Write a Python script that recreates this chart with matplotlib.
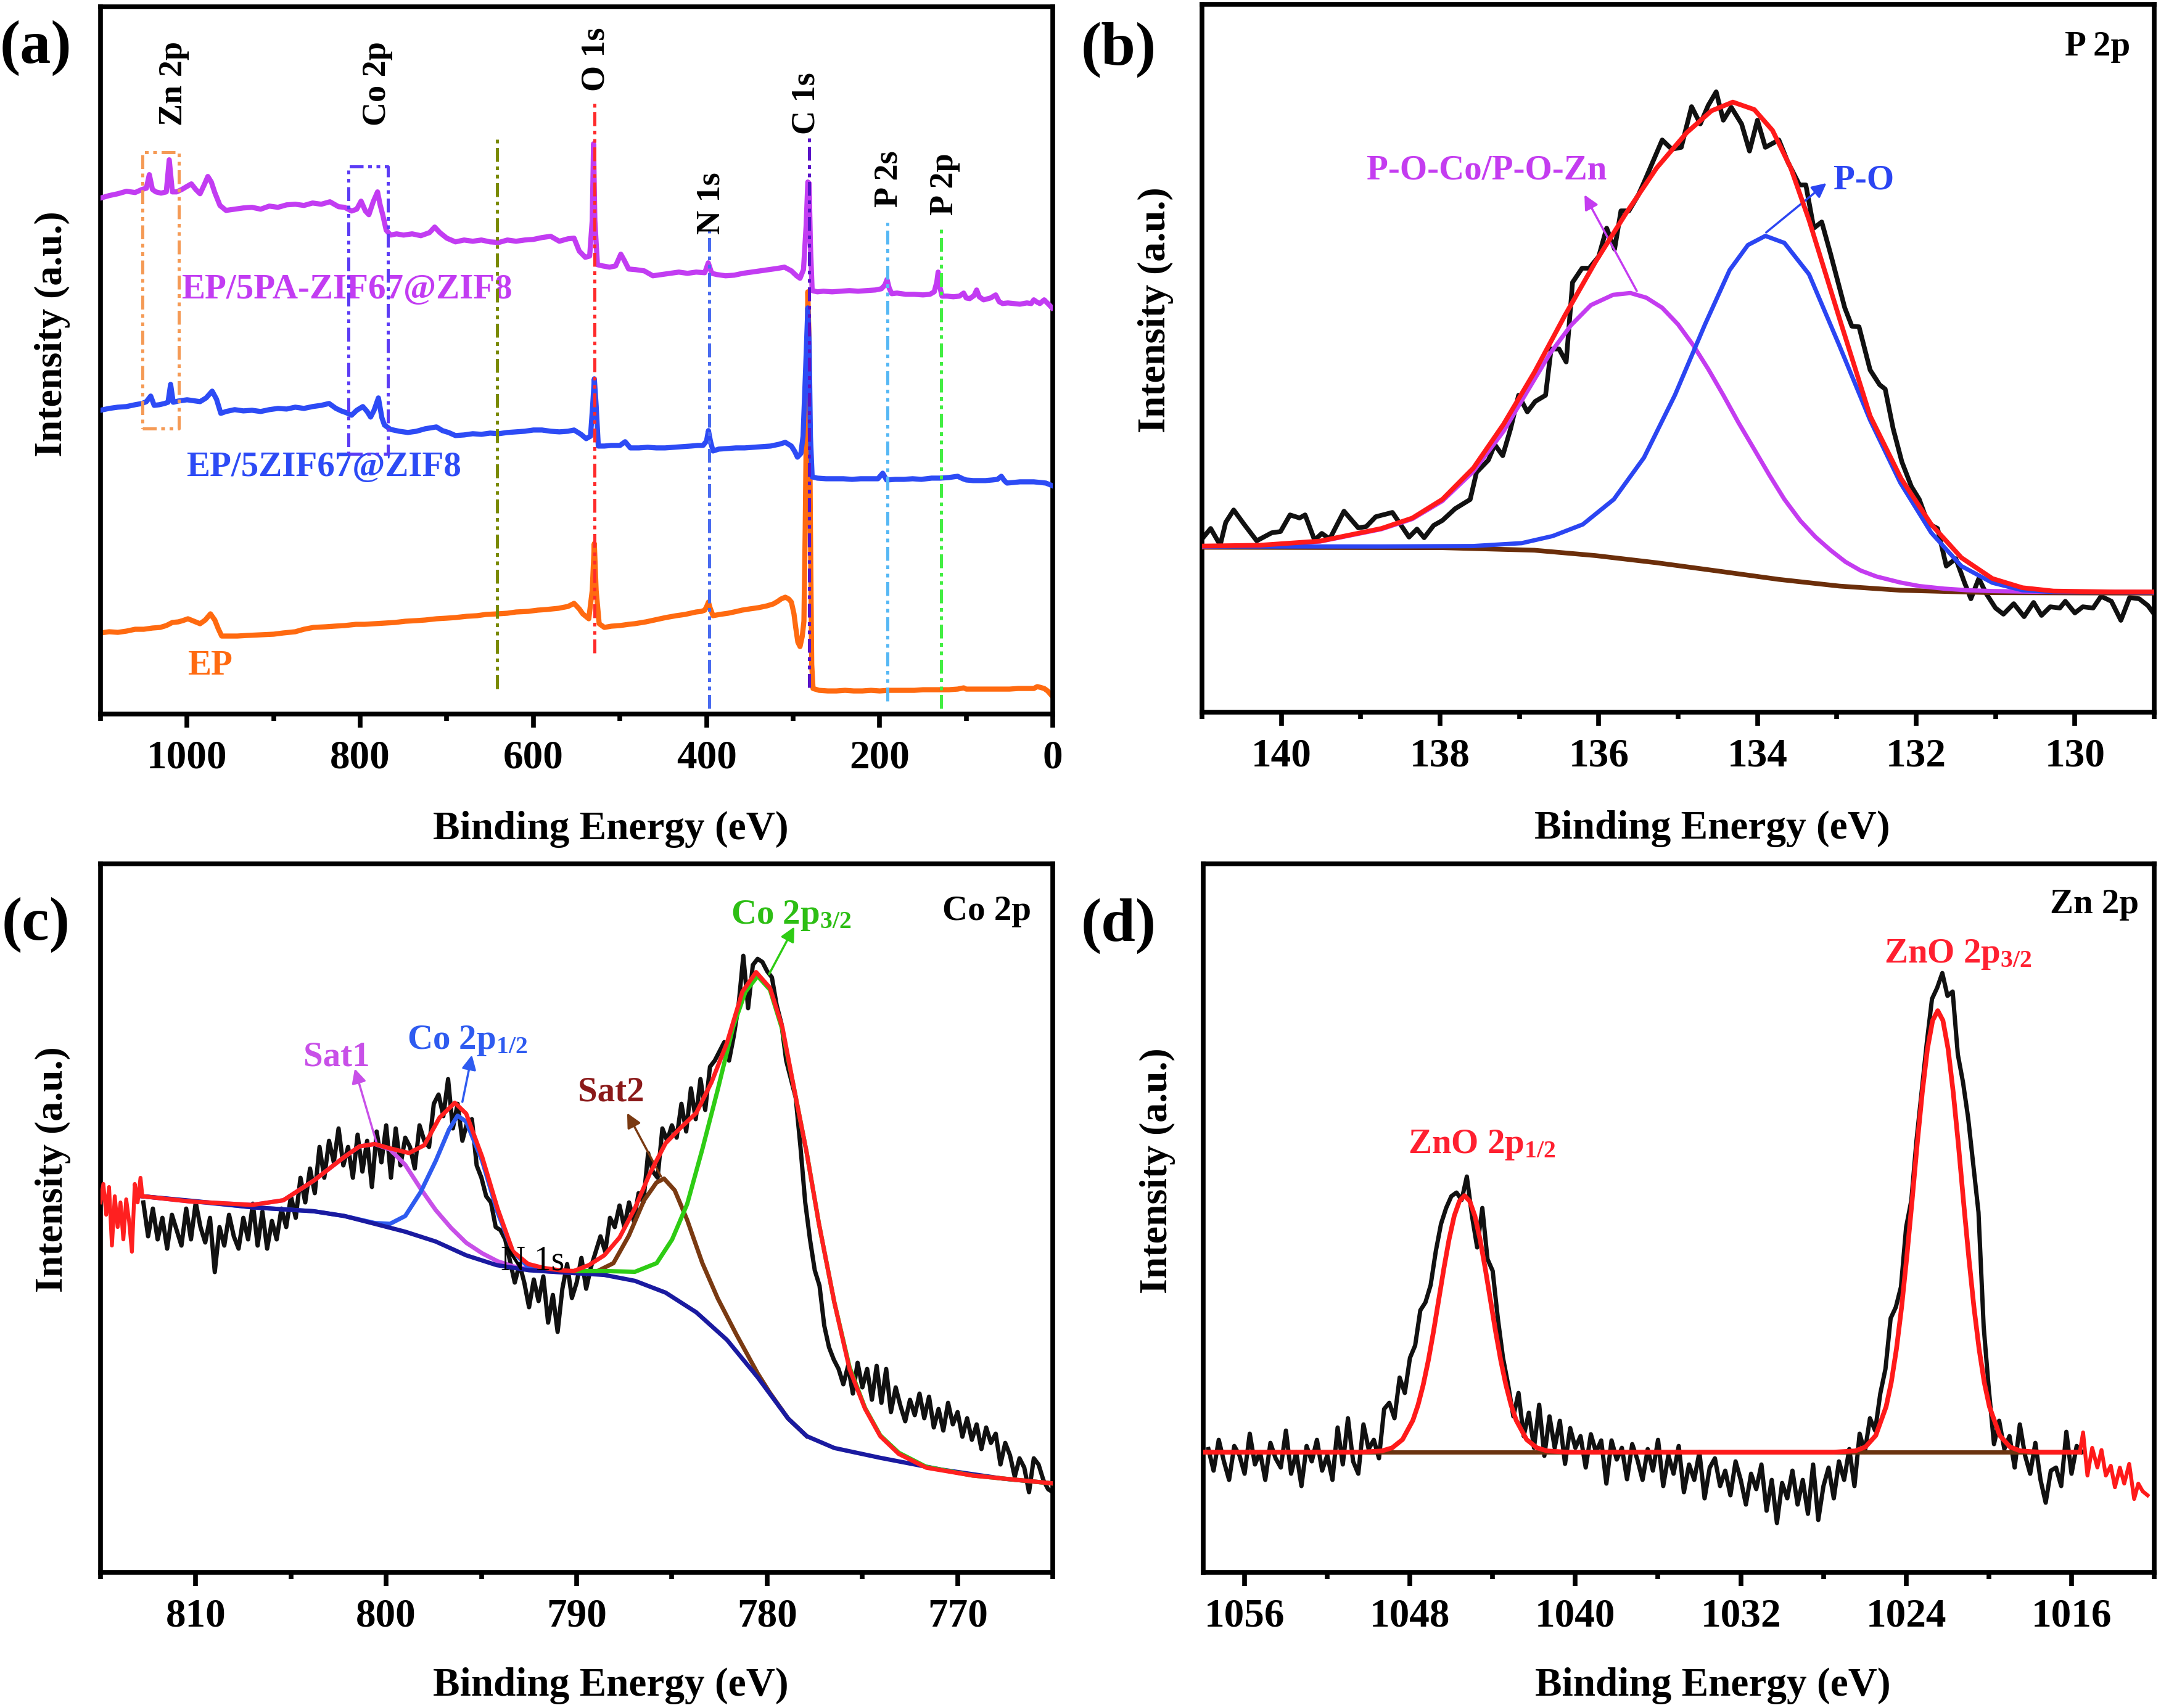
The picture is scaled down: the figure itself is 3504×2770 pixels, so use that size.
import matplotlib.pyplot as plt
import numpy as np
from matplotlib.ticker import MultipleLocator

plt.rcParams['font.family'] = ['Liberation Serif', 'DejaVu Serif']
plt.rcParams['font.weight'] = 'bold'
plt.rcParams['mathtext.fontset'] = 'custom'
plt.rcParams['mathtext.rm'] = 'Liberation Serif:bold'
plt.rcParams['mathtext.it'] = 'Liberation Serif:bold'
plt.rcParams['mathtext.bf'] = 'Liberation Serif:bold'

# ---------------- (a) survey spectra ----------------
pa_x = [1100, 1090, 1080, 1070, 1060, 1052, 1047, 1043.6, 1040, 1036,
        1030, 1024, 1020.6, 1017, 1012, 1006, 1000, 995, 990, 985,
        980, 976, 972, 968, 962, 955, 945, 935, 925, 915,
        905, 895, 885, 875, 865, 855, 845, 835, 825, 818,
        810, 804, 799, 794, 790, 785, 780, 777, 774, 770,
        765, 758, 750, 740, 730, 720, 714, 708, 700, 690,
        680, 670, 660, 650, 640, 630, 620, 610, 600, 590,
        580, 570, 560, 553, 547, 540, 535, 532, 530.5, 529,
        526, 520, 512, 505, 499, 495, 490, 482, 472, 462,
        452, 442, 432, 422, 412, 402, 398, 394, 388, 378,
        368, 358, 348, 338, 328, 318, 310, 302, 296, 292,
        288, 285, 283, 281.5, 280, 278, 272, 265, 255, 245,
        235, 225, 215, 205, 198, 194, 191.5, 189, 186, 180,
        170, 160, 150, 142, 137, 134, 132.5, 131, 128, 122,
        115, 108, 103, 100, 96, 91, 88, 85, 80, 72,
        66, 62, 58, 52, 45, 38, 30, 25, 22, 19,
        15, 10, 5, 1]
pa_y = [836, 840, 843, 847, 845, 850, 852, 874, 850, 846,
        844, 846, 898, 846, 846, 850, 855, 859, 850, 843,
        858, 871, 862, 845, 824, 816, 818, 820, 821, 818,
        823, 821, 825, 826, 824, 828, 826, 830, 822, 821,
        815, 818, 831, 815, 809, 830, 846, 825, 809, 784,
        776, 778, 776, 778, 775, 780, 789, 780, 771, 765,
        768, 766, 768, 765, 764, 768, 766, 768, 769, 772,
        774, 766, 770, 771, 750, 740, 742, 800, 924, 800,
        728, 726, 724, 726, 745, 735, 721, 720, 718, 710,
        712, 714, 716, 714, 716, 715, 731, 714, 712, 710,
        711, 714, 716, 718, 720, 722, 724, 718, 710, 706,
        720, 790, 862, 860, 760, 686, 684, 685, 684, 685,
        686, 685, 686, 687, 689, 695, 704, 690, 681, 682,
        680, 680, 679, 680, 684, 700, 716, 695, 677, 677,
        676, 677, 682, 674, 673, 678, 687, 676, 671, 674,
        679, 668, 665, 666, 665, 664, 666, 665, 671, 668,
        665, 671, 664, 658]

zif_x = [1100, 1090, 1080, 1070, 1060, 1052, 1047, 1042, 1038, 1032,
         1026, 1022, 1019, 1016, 1010, 1000, 990, 985, 978, 971,
         966, 961, 955, 945, 935, 925, 915, 905, 895, 885,
         875, 865, 855, 845, 836, 828, 822, 816, 810, 804,
         797, 792, 788, 784, 779, 775, 772, 765, 755, 745,
         735, 725, 712, 705, 698, 690, 680, 670, 660, 650,
         640, 630, 620, 610, 600, 590, 580, 570, 560, 553,
         545, 539, 534, 531.5, 529.6, 527.5, 525, 518, 510, 500,
         494, 488, 478, 468, 458, 448, 438, 428, 418, 410,
         404, 400, 397.8, 395.5, 392.5, 386, 376, 366, 356, 346,
         336, 326, 316, 309, 302, 298, 295, 291, 288.5, 285.5,
         283, 281.5, 280, 278, 272, 262, 252, 242, 232, 222,
         212, 202, 196.5, 192, 182, 172, 162, 152, 146, 140,
         130, 120, 110, 104, 100, 92, 84, 78, 70, 64,
         59.5, 56, 53, 45, 38, 30, 22, 15, 8, 1]
zif_y = [492, 495, 497, 498, 501, 503, 506, 515, 500, 501,
         503, 505, 534, 505, 507, 509, 507, 506, 512, 523,
         510, 487, 490, 493, 491, 492, 490, 493, 495, 494,
         497, 495, 498, 500, 503, 495, 491, 488, 484, 492,
         498, 490, 481, 492, 512, 480, 468, 461, 458, 456,
         458, 462, 465, 459, 456, 451, 452, 454, 453, 455,
         454, 456, 457, 458, 460, 460, 458, 457, 458, 460,
         453, 446, 450, 500, 543, 500, 434, 434, 435, 435,
         441, 431, 431, 432, 431, 431, 432, 433, 434, 435,
         435, 442, 459, 442, 426, 429, 430, 431, 431, 432,
         433, 434, 437, 440, 434, 425, 416, 422, 450, 560,
         658, 600, 450, 384, 382, 381, 381, 381, 380, 381,
         381, 381, 390, 379, 380, 380, 381, 380, 381, 382,
         382, 383, 385, 381, 379, 378, 378, 378, 379, 380,
         385, 378, 374, 375, 376, 376, 376, 375, 374, 370]

ep_x = [1100, 1090, 1080, 1070, 1060, 1050, 1040, 1031, 1024, 1017,
        1010, 1005, 999, 992, 985, 979, 973, 968, 964, 960,
        952, 942, 930, 915, 900, 889, 875, 865, 854, 840,
        830, 818, 805, 795, 783, 770, 760, 748, 735, 725,
        712, 700, 690, 677, 665, 655, 641, 630, 620, 606,
        595, 585, 571, 560, 553, 547, 543, 536, 532, 529.6,
        527.5, 524, 518, 510, 500, 490, 483, 470, 460, 447,
        435, 425, 412, 406, 402, 399.5, 397.8, 396, 392.5, 385,
        375, 365, 359, 350, 340, 330, 323, 318, 314, 309,
        305, 302, 299, 297, 294.5, 292, 289.5, 287.5, 286, 284.5,
        283, 281.5, 280, 278.5, 277, 270, 260, 250, 240, 230,
        220, 210, 200, 190, 180, 170, 160, 150, 140, 130,
        120, 110, 103, 100, 90, 80, 70, 60, 50, 40,
        30, 22, 18, 15, 10, 6, 1]
ep_y = [131, 133, 132, 134, 137, 137, 139, 140, 143, 148,
        149, 151, 154, 150, 146, 152, 162, 152, 138, 126,
        126, 126, 127, 128, 129, 131, 133, 137, 140, 141,
        142, 143, 145, 145, 146, 147, 148, 150, 151, 152,
        154, 155, 156, 158, 159, 161, 162, 163, 165, 166,
        168, 169, 171, 174, 179, 170, 162, 154, 200, 276,
        200, 146, 140, 142, 143, 145, 146, 149, 152, 156,
        159, 161, 165, 166, 168, 175, 181, 172, 159, 161,
        163, 166, 168, 170, 172, 175, 178, 182, 186, 189,
        186, 181, 162, 140, 116, 109, 125, 150, 300, 500,
        684, 600, 300, 80, 41, 38, 37, 37, 38, 37,
        37, 38, 37, 38, 38, 38, 38, 39, 39, 39,
        39, 40, 42, 40, 40, 40, 40, 40, 40, 41,
        41, 41, 44, 43, 41, 37, 29]

peak_names = ['Zn 2p', 'Co 2p', 'O 1s', 'N 1s', 'C 1s', 'P 2s', 'P 2p']
peak_text_x = [1015, 780, 527.5, 394.4, 284.5, 188.9, 125.1]
peak_text_y = [953, 953, 1009, 777, 939, 821, 808]
mark_x = [642.2, 529.6, 396.7, 281.6, 190.9, 128.9]
mark_top = [931, 991, 790, 934, 796, 787]
mark_bot = [41, 99, 9, 43, 21, 9]
mark_colors = ['#7A8A00', '#FF2A2A', '#4A6CF0', '#5A14C8', '#56B8F5', '#44EE44']

# ---------------- (b) P 2p ----------------
p2p_x = [140.98, 140.89, 140.77, 140.70, 140.60, 140.47, 140.31, 140.12, 140.01, 139.89,
         139.77, 139.70, 139.58, 139.49, 139.39, 139.21, 139.03, 138.93, 138.81, 138.60,
         138.39, 138.29, 138.20, 138.08, 137.97, 137.81, 137.62, 137.54, 137.39, 137.31,
         137.21, 137.11, 137.01, 136.90, 136.80, 136.67, 136.60, 136.50, 136.41, 136.33,
         136.21, 136.12, 136.00, 135.90, 135.80, 135.72, 135.62, 135.50, 135.43, 135.29,
         135.20, 135.08, 134.96, 134.83, 134.72, 134.62, 134.52, 134.43, 134.33, 134.20,
         134.10, 134.00, 133.90, 133.73, 133.62, 133.47, 133.39, 133.29, 133.19, 133.08,
         132.90, 132.81, 132.72, 132.58, 132.46, 132.39, 132.29, 132.18, 132.06, 131.96,
         131.85, 131.73, 131.62, 131.50, 131.39, 131.31, 131.21, 131.12, 131.00, 130.90,
         130.77, 130.64, 130.52, 130.42, 130.31, 130.19, 130.12, 130.00, 129.90, 129.77,
         129.67, 129.54, 129.42, 129.31, 129.19, 129.08, 129.00]
p2p_y = [284, 298, 271, 308, 328, 305, 278, 291, 293, 320,
         315, 320, 279, 290, 281, 326, 299, 301, 317, 324,
         284, 297, 283, 303, 311, 330, 345, 389, 409, 434,
         416, 460, 514, 487, 504, 514, 589, 589, 568, 697,
         720, 720, 739, 785, 751, 813, 813, 839, 859, 901,
         928, 913, 916, 982, 954, 984, 1006, 960, 981, 954,
         910, 960, 916, 928, 893, 855, 855, 785, 795, 744,
         656, 626, 625, 555, 531, 524, 460, 406, 366, 345,
         306, 298, 237, 249, 210, 184, 217, 193, 169, 159,
         176, 155, 178, 157, 171, 169, 180, 161, 171, 169,
         188, 180, 149, 186, 184, 173, 159]

p2p_fit_x = [140.98, 140.27, 139.51, 138.74, 138.35, 137.97, 137.58, 137.20, 136.81, 136.43,
             136.04, 135.66, 135.27, 134.89, 134.58, 134.31, 134.04, 133.81, 133.58, 133.35,
             132.96, 132.58, 132.19, 131.81, 131.43, 131.04, 130.66, 130.27, 129.50, 129.00]
p2p_fit_y = [269.5, 270.8, 277.6, 297.9, 314.8, 345.2, 395.9, 466.9, 551.4, 642.6,
             730.5, 808.3, 882.6, 940, 975.2, 989.4, 977.3, 943.5, 882.6, 798.1,
             635.9, 480.4, 379, 304.6, 250.6, 216.8, 201.9, 196.5, 195.1, 195.1]
poco_x = [140.98, 140.27, 139.51, 138.74, 138.35, 137.97, 137.58, 137.20, 136.90, 136.62,
          136.35, 136.10, 135.82, 135.60, 135.40, 135.20, 135.00, 134.81, 134.62, 134.43,
          134.24, 134.04, 133.85, 133.66, 133.46, 133.27, 133.08, 132.89, 132.70, 132.50,
          132.20, 131.96, 131.65, 131.35, 131.04, 130.50, 129.00]
poco_y = [268.8, 270.2, 276.9, 296.8, 313.3, 342.5, 390.4, 455.5, 520.4, 580.5,
          627.4, 660.1, 676.8, 679.8, 672.2, 655.8, 628.8, 595.3, 556.5, 514.2,
          469.9, 426.3, 384.6, 345.2, 310.6, 284.4, 262.9, 243.8, 229.8, 220.1,
          210.4, 204.6, 200.4, 197.8, 196.5, 195.4, 195]
po_x = [140.98, 138.74, 137.58, 136.97, 136.58, 136.20, 135.81, 135.43, 135.04, 134.66,
        134.35, 134.12, 133.90, 133.66, 133.35, 132.97, 132.58, 132.20, 131.81, 131.43,
        131.04, 130.66, 130.27, 129.00]
po_y = [268.8, 268.8, 269.5, 274.2, 285.7, 304.6, 345.2, 412.8, 514.2, 629.1,
        717, 757.6, 772.4, 761, 710.2, 595.3, 473.6, 372.2, 291.1, 237,
        210, 197.8, 195.1, 194]
p2p_bg_x = [140.98, 137.97, 136.81, 136.04, 135.27, 134.50, 133.73, 132.97, 132.20, 131.04, 129.00]
p2p_bg_y = [267.5, 266.8, 262.7, 254, 242.4, 229, 215.4, 204.6, 197.8, 193.8, 193.1]

# ---------------- (c) Co 2p ----------------
co_x = np.arange(812.75, 764.9, -0.25)
co_y = [600, 545, 590, 540, 575, 525, 580, 555, 530, 590,
        540, 600, 560, 535, 575, 487, 560, 530, 580, 545,
        525, 575, 540, 598, 530, 585, 525, 570, 540, 590,
        560, 610, 575, 640, 600, 655, 615, 690, 640, 700,
        665, 720, 660, 690, 640, 710, 650, 700, 625, 715,
        665, 725, 640, 720, 660, 705, 690, 655, 725, 700,
        690, 760, 775, 740, 800, 720, 760, 700, 730, 735,
        660, 640, 610, 600, 560, 555, 540, 505, 470, 500,
        470, 430, 475, 440, 480, 405, 450, 390, 460, 500,
        445, 470, 510, 460, 495, 520, 545, 520, 575, 560,
        595, 560, 600, 570, 615, 600, 680, 650, 640, 720,
        700, 725, 705, 760, 715, 785, 735, 800, 750, 820,
        830, 845, 860, 830, 870, 920, 1000, 915, 985, 995,
        990, 975, 965, 920, 890, 830, 800, 770, 690, 600,
        540, 490, 465, 400, 365, 345, 330, 305, 335, 290,
        340, 300, 330, 280, 335, 275, 330, 260, 300, 270,
        245, 280, 255, 290, 250, 285, 235, 265, 230, 275,
        240, 260, 220, 250, 215, 240, 200, 235, 210, 225,
        175, 210, 190, 155, 185, 170, 130, 185, 175, 150,
        135, 130]
co_edge_x = [815.0, 814.85, 814.7, 814.55, 814.4, 814.25, 814.1, 813.95, 813.8, 813.65,
             813.5, 813.35, 813.2, 813.05, 812.9, 812.8]
co_edge_y = [600, 630, 580, 625, 530, 610, 560, 600, 540, 605,
             570, 520, 630, 600, 640, 610]
co_fit_x = [812.8, 810.3, 807.04, 805.4, 803.8, 802.2, 801.4, 800.6, 799.8, 798.8,
            798.0, 797.2, 796.4, 795.8, 794.96, 794.16, 793.35, 792.55, 791.74, 790.9,
            790.16, 789.36, 788.55, 787.75, 786.94, 786.14, 785.33, 784.53, 783.72, 782.92,
            782.11, 781.3, 780.58, 779.85, 779.2, 778.57, 777.92, 777.28, 776.47, 775.67,
            774.86, 774.06, 773.09, 771.64, 769.22, 765.0]
co_fit_y = [610, 601.6, 595.9, 603.5, 635.4, 673.7, 690.9, 694.7, 687.7, 680.1,
            692.8, 737.5, 761.7, 743.9, 673.7, 590.8, 520.6, 500.2, 493.8, 490,
            488.7, 498.3, 514.2, 543, 590.8, 648.2, 696, 721.5, 745.1, 794.9,
            858.7, 941.6, 973.5, 948, 884.2, 782.1, 680.1, 565.3, 437.7, 329.3,
            265.5, 220.9, 192.2, 169.8, 157.1, 144.3]
co_bg_x = [812.8, 810.0, 807.0, 805.0, 803.8, 802.2, 800.6, 799.0, 797.4, 795.8,
           794.2, 792.5, 790.2, 788.55, 786.94, 785.33, 783.72, 782.11, 780.5, 778.9,
           777.92, 776.47, 774.06, 770.84, 767.61, 765.0]
co_bg_y = [610, 602, 592, 588, 585.7, 578, 565.3, 552.5, 536.6, 514.2,
           498.3, 490, 485.5, 482.4, 472.8, 453.7, 421.8, 377.1, 316.5, 249.6,
           220.9, 201.7, 185.8, 166.6, 152, 144.3]
sat1_x = [812.8, 810.3, 807.04, 805.4, 803.8, 802.2, 801.4, 800.6, 799.8, 799.0,
          798.2, 797.4, 796.6, 795.8, 794.96, 794.16, 793.35, 792.55, 791.5, 790.2]
sat1_y = [610, 601.6, 595.9, 603.5, 635.4, 673.7, 690.9, 694.7, 686, 660.9,
          622.7, 587.6, 558.9, 534.6, 517.5, 504.7, 496.4, 491.9, 488, 485.5]
co12_x = [812.8, 807.0, 803.8, 802.2, 800.6, 799.8, 799.0, 798.2, 797.4, 796.7,
          796.25, 795.8, 794.96, 794.16, 793.35, 792.55, 790.9]
co12_y = [610, 592, 585.7, 578, 566.6, 565.3, 578, 616.3, 667.3, 718.3,
          740.7, 731, 667.3, 584.4, 520.6, 495.1, 488.7]
co32_x = [790.16, 788.55, 786.94, 785.8, 784.99, 784.2, 783.4, 782.6, 781.79, 781.14,
          780.5, 779.85, 779.21, 778.57, 777.92, 777.28, 776.47, 775.67, 774.86, 774.06,
          773.09, 771.64, 769.22, 765.04]
co32_y = [488.7, 488.7, 487.5, 501.5, 539.8, 597.2, 686.5, 782.1, 884.2, 941.6,
          967.1, 944.8, 881, 782.1, 680.1, 565.3, 437.7, 332.5, 266.8, 222.2,
          194.1, 171.1, 157.1, 144.3]
sat2_x = [790.16, 788.9, 788.07, 787.26, 786.46, 785.81, 785.41, 784.85, 784.2, 783.4,
          782.59, 781.63, 780.5, 779.85, 778.9, 777.92]
sat2_y = [487.5, 488.7, 501.5, 546.1, 603.5, 632.2, 638.6, 619.5, 571.7, 501.5,
          444.1, 386.7, 322.9, 291, 249.6, 220.9]

# ---------------- (d) Zn 2p ----------------
zn_x = np.arange(1057.75, 1015.4, -0.25)
zn_y = [200, 165, 215, 180, 150, 205, 190, 160, 225, 175,
        195, 150, 210, 185, 170, 230, 160, 195, 140, 205,
        180, 215, 165, 190, 150, 235, 175, 250, 180, 160,
        240, 200, 215, 185, 265, 275, 250, 316, 291, 348,
        368, 425, 438, 466, 521, 565, 591, 610, 616, 604,
        642, 578, 527, 591, 508, 489, 412, 348, 304, 253,
        291, 221, 259, 202, 272, 189, 253, 202, 246, 176,
        234, 202, 221, 170, 224, 195, 214, 144, 214, 183,
        202, 151, 208, 183, 150, 200, 165, 215, 140, 190,
        160, 205, 130, 175, 150, 195, 120, 170, 185, 140,
        165, 125, 180, 150, 110, 160, 135, 175, 100, 150,
        80, 145, 120, 165, 110, 150, 95, 175, 85, 140,
        170, 120, 180, 150, 200, 140, 225, 195, 250, 230,
        290, 330, 412, 430, 463, 560, 603, 700, 780, 859,
        930, 948, 972, 935, 942, 840, 795, 737, 660, 584,
        399, 297, 208, 246, 200, 221, 170, 240, 190, 160,
        210, 150, 113, 165, 170, 140, 228, 160, 205, 195]
zn_tail_x = [1015.6, 1015.44, 1015.23, 1015.0, 1014.75, 1014.55, 1014.34, 1014.1, 1013.9, 1013.66,
             1013.45, 1013.21, 1012.97, 1012.77, 1012.56, 1012.32]
zn_tail_y = [195, 227, 157, 202, 170, 198.5, 157, 173, 138, 170,
             144, 176, 119, 144, 131.6, 125]
zn_fit_x = [1058.0, 1050.4, 1049.36, 1048.86, 1048.36, 1047.86, 1047.61, 1047.36, 1047.11, 1046.86,
            1046.61, 1046.36, 1046.11, 1045.86, 1045.61, 1045.36, 1045.11, 1044.86, 1044.61, 1044.36,
            1044.11, 1043.86, 1043.61, 1043.36, 1043.11, 1042.86, 1042.36, 1041.86, 1041.36, 1040.4,
            1027.5, 1026.47, 1025.97, 1025.47, 1024.97, 1024.72, 1024.47, 1024.22, 1023.97, 1023.72,
            1023.47, 1023.22, 1022.97, 1022.72, 1022.47, 1022.22, 1021.97, 1021.72, 1021.47, 1021.22,
            1020.97, 1020.72, 1020.47, 1020.22, 1019.97, 1019.47, 1018.97, 1018.47, 1017.5, 1015.6]
zn_fit_y = [195, 195, 197, 202, 215.5, 246.5, 271.5, 304, 344, 391,
            442, 493, 540, 578, 602, 611, 602, 578, 540, 493,
            442, 391, 344, 304, 271.5, 246.5, 215.5, 202, 197, 195,
            195, 197, 203.3, 222, 268.6, 308, 362, 430, 511, 600,
            693, 778, 849, 895, 911, 895, 849, 778, 693, 600,
            511, 430, 362, 308, 268.6, 222, 203.3, 197, 195, 195]
zn_bg_x = [1058.0, 1015.6]
zn_bg_y = [195, 195]

# ---------------- figure ----------------
fig = plt.figure(figsize=(35.04, 27.70), dpi=100)
ax_a = fig.add_axes([0.0465, 0.5821, 0.4407, 0.4139])
ax_b = fig.add_axes([0.5562, 0.5830, 0.44066, 0.4145])
ax_c = fig.add_axes([0.0465, 0.0794, 0.4407, 0.4148])
ax_d = fig.add_axes([0.5568, 0.0794, 0.44006, 0.4148])


def style(ax, xlim, major, minor, ylim, ylab_x, ylab_y, xlab_y):
    ax.set_xlim(*xlim)
    ax.set_ylim(*ylim)
    ax.xaxis.set_major_locator(MultipleLocator(major))
    ax.xaxis.set_minor_locator(MultipleLocator(minor))
    ax.set_yticks([])
    ax.tick_params(axis='x', which='major', direction='out', length=16, width=5.5,
                   labelsize=47, pad=14)
    ax.tick_params(axis='x', which='minor', direction='out', length=8, width=5.5)
    for s in ax.spines.values():
        s.set_linewidth(5.5)
    ax.set_xlabel('Binding Energy (eV)', fontsize=47, fontweight='bold')
    ax.set_ylabel('Intensity (a.u.)', fontsize=46, fontweight='bold')
    ax.xaxis.set_label_coords(0.536, xlab_y)
    ax.yaxis.set_label_coords(ylab_x, ylab_y)


dashdotdot = (0, (4.5, 1.5, 1.2, 1.5, 1.2, 1.5))
arrow = dict(arrowstyle='-|>', lw=2.5, mutation_scale=35, shrinkA=0, shrinkB=0)

# (a)
ax = ax_a
ax.plot(ep_x, ep_y, color='#FF6A10', lw=6, zorder=2)
ax.plot(zif_x, zif_y, color='#2D4BF5', lw=6, zorder=3)
ax.plot(pa_x, pa_y, color='#C23CF2', lw=6, zorder=4)
for x, t, b, c in zip(mark_x, mark_top, mark_bot, mark_colors):
    ax.plot([x, x], [b, t], color=c, lw=3.6, ls=dashdotdot, zorder=5)
ax.plot([1051.4, 1009.3, 1009.3, 1051.4, 1051.4], [462, 462, 910, 910, 462],
        color='#F59A55', lw=3.6, ls=dashdotdot, zorder=5)
ax.plot([813.3, 768.3, 768.3, 813.3, 813.3], [421, 421, 887, 887, 421],
        color='#5B3BF5', lw=3.6, ls=dashdotdot, zorder=5)
for name, x, y in zip(peak_names, peak_text_x, peak_text_y):
    ax.text(x, y, name, rotation=90, ha='center', va='bottom', fontsize=39,
            fontweight='bold', color='black', zorder=6)
ax.text(1006.4, 687, 'EP/5PA-ZIF67@ZIF8', color='#C23CF2', fontsize=41,
        fontweight='bold', ha='left', va='center', zorder=1)
ax.text(1001, 399, 'EP/5ZIF67@ZIF8', color='#2D4BF5', fontsize=41,
        fontweight='bold', ha='left', va='center', zorder=1)
ax.text(999.4, 78, 'EP', color='#FF6A10', fontsize=41,
        fontweight='bold', ha='left', va='center', zorder=1)
style(ax, (1100, 0), 200, 100, (0, 1146), -0.032, 0.537, -0.137)

# (b)
ax = ax_b
ax.plot(p2p_x, p2p_y, color='#111111', lw=5.5, zorder=2)
ax.plot(p2p_bg_x, p2p_bg_y, color='#6B2E0A', lw=5.5, zorder=3)
ax.plot(poco_x, poco_y, color='#C43CF0', lw=5, zorder=4)
ax.plot(po_x, po_y, color='#2B45F2', lw=5, zorder=5)
ax.plot(p2p_fit_x, p2p_fit_y, color='#FF1A1A', lw=5.5, zorder=6)
ax.text(137.41, 878, 'P-O-Co/P-O-Zn', color='#C43CF0', fontsize=41,
        fontweight='bold', ha='center', va='center')
ax.annotate('', xy=(136.18, 839), xytext=(135.52, 683),
            arrowprops=dict(arrow, color='#C43CF0'))
ax.text(132.66, 862, 'P-O', color='#2B45F2', fontsize=41,
        fontweight='bold', ha='center', va='center')
ax.annotate('', xy=(133.13, 858), xytext=(133.89, 778),
            arrowprops=dict(arrow, color='#2B45F2'))
ax.text(0.975, 0.94, 'P 2p', transform=ax.transAxes, fontsize=41,
        fontweight='bold', ha='right', va='center')
style(ax, (141, 129), 2, 1, (0, 1148), -0.030, 0.568, -0.138)

# (c)
ax = ax_c
ax.plot(co_x, co_y, color='#111111', lw=5, zorder=2)
ax.plot(co_edge_x, co_edge_y, color='#FF2020', lw=4.5, zorder=8)
ax.plot(sat1_x, sat1_y, color='#C850E8', lw=5, zorder=4)
ax.plot(co12_x, co12_y, color='#2E5BF0', lw=5, zorder=5)
ax.plot(sat2_x, sat2_y, color='#7A3A12', lw=5, zorder=5)
ax.plot(co_bg_x, co_bg_y, color='#1A1AA0', lw=5, zorder=6)
ax.plot(co32_x, co32_y, color='#2ECC14', lw=5, zorder=6.5)
ax.plot(co_fit_x, co_fit_y, color='#FF2020', lw=5, zorder=7)
ax.text(802.6, 836, 'Sat1', color='#C850E8', fontsize=41, fontweight='bold',
        ha='center', va='center')
ax.annotate('', xy=(801.65, 817), xytext=(800.5, 696),
            arrowprops=dict(arrow, color='#C850E8'))
ax.text(798.9, 862, r'Co 2p$_{1/2}$', color='#2E5BF0', fontsize=41,
        fontweight='bold', ha='left', va='center')
ax.annotate('', xy=(795.5, 839), xytext=(796.0, 763),
            arrowprops=dict(arrow, color='#2E5BF0'))
ax.text(788.2, 779, 'Sat2', color='#8B1A1A', fontsize=41, fontweight='bold',
        ha='center', va='center')
ax.annotate('', xy=(787.35, 745), xytext=(785.57, 642),
            arrowprops=dict(arrow, color='#7A3A12'))
ax.text(781.9, 1065, r'Co 2p$_{3/2}$', color='#2DBE14', fontsize=41,
        fontweight='bold', ha='left', va='center')
ax.annotate('', xy=(778.57, 1047), xytext=(779.9, 970),
            arrowprops=dict(arrow, color='#2ECC14'))
ax.text(794.0, 505, 'N 1s', color='black', fontsize=40, fontweight='normal',
        ha='left', va='center', zorder=9)
ax.text(0.977, 0.933, 'Co 2p', transform=ax.transAxes, fontsize=41,
        fontweight='bold', ha='right', va='center')
style(ax, (815, 765), 10, 5, (0, 1149), -0.031, 0.569, -0.134)

# (d)
ax = ax_d
ax.plot(zn_x, zn_y, color='#111111', lw=5, zorder=2)
ax.plot(zn_bg_x, zn_bg_y, color='#6B3410', lw=5, zorder=3)
ax.plot(zn_fit_x, zn_fit_y, color='#FF1A1A', lw=5.5, zorder=4)
ax.plot(zn_tail_x, zn_tail_y, color='#FF1A1A', lw=4.5, zorder=4)
ax.text(1048.09, 680, r'ZnO 2p$_{1/2}$', color='#FF2030', fontsize=41,
        fontweight='bold', ha='left', va='baseline')
ax.text(1025.08, 989, r'ZnO 2p$_{3/2}$', color='#FF2030', fontsize=41,
        fontweight='bold', ha='left', va='baseline')
ax.text(0.984, 0.943, 'Zn 2p', transform=ax.transAxes, fontsize=41,
        fontweight='bold', ha='right', va='center')
style(ax, (1058, 1012), 8, 4, (0, 1149), -0.029, 0.567, -0.134)

# panel letters
fig.text(0.0166, 0.972, '(a)', fontsize=72, fontweight='bold', ha='center', va='center')
fig.text(0.5177, 0.971, '(b)', fontsize=72, fontweight='bold', ha='center', va='center')
fig.text(0.0166, 0.4585, '(c)', fontsize=72, fontweight='bold', ha='center', va='center')
fig.text(0.5177, 0.4577, '(d)', fontsize=72, fontweight='bold', ha='center', va='center')

fig.savefig('out.png', dpi=100)
